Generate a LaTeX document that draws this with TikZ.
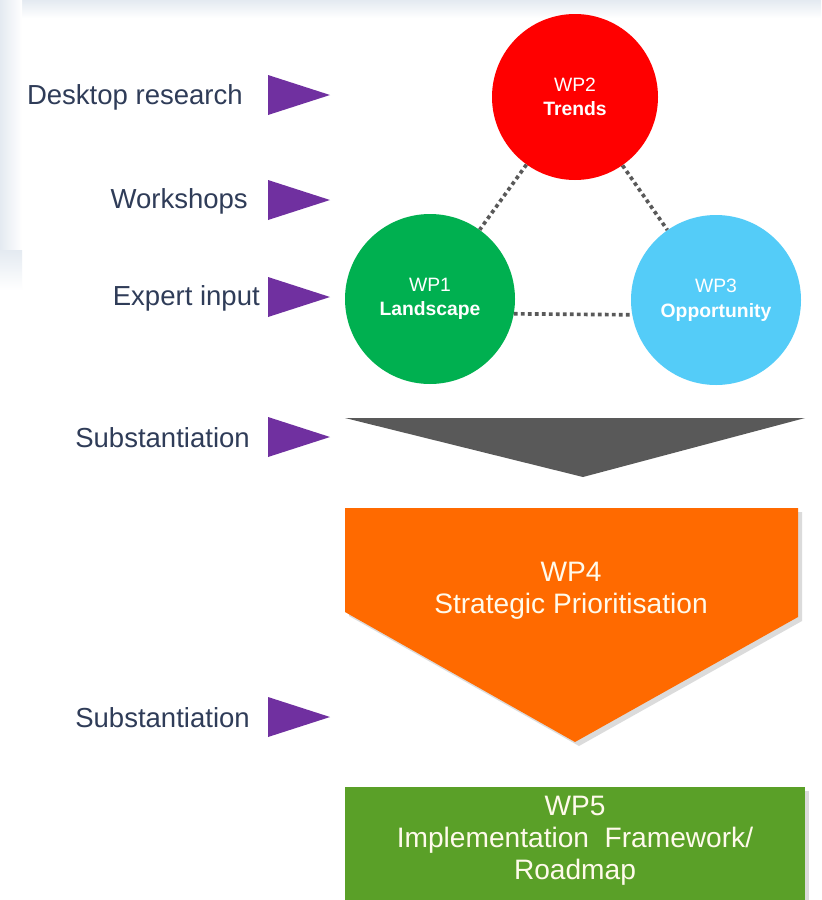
\documentclass[tikz,border=0pt]{standalone}
\usepackage{fontspec}
\setmainfont{Liberation Sans}
\definecolor{wpred}{RGB}{255,0,0}
\definecolor{wpgreen}{RGB}{0,176,80}
\definecolor{wpblue}{RGB}{84,204,248}
\definecolor{wporange}{RGB}{255,106,0}
\definecolor{wpbox}{RGB}{90,160,40}
\definecolor{chevron}{RGB}{89,89,89}
\definecolor{pointercol}{RGB}{112,48,160}
\definecolor{labeltext}{RGB}{47,60,88}
\definecolor{backdrop}{RGB}{228,234,241}
\definecolor{cream}{RGB}{255,250,235}

\begin{document}
\begin{tikzpicture}[x=0.3mm, y=-0.3mm,
  lbl/.style={anchor=east, text=labeltext, inner sep=0pt, font=\fontsize{23.5}{26}\selectfont},
  pointer/.style={fill=pointercol},
  wp/.style={circle, minimum size=51mm, inner sep=0pt, text=white, align=center, font=\fontsize{16.5}{21}\selectfont},
  boxtext/.style={text=cream, align=center, font=\fontsize{24}{27.5}\selectfont},
  link/.style={draw=black!65, line width=1.1mm, dash pattern=on 1.1mm off 1mm}]
	\useasboundingbox (0,0) rectangle (821,900);
	\fill[white] (0,0) rectangle (821,900);
	\shade[top color=backdrop, bottom color=white] (0,0) rectangle (821,18);
	\shade[left color=backdrop, right color=white] (0,0) rectangle (22,250);
	\shade[top color=backdrop, bottom color=white] (0,250) rectangle (22,290);
	\node[lbl] (desk) at (243,97) {Desktop research};
	\node[lbl] (shop) at (248,201) {Workshops};
	\node[lbl] (expert) at (260,298) {Expert input};
	\node[lbl] (subst1) at (250,438) {Substantiation};
	\node[lbl] (subst2) at (250,718) {Substantiation};
	\fill[pointer] (268,75) -- ++(62,20) -- ++(-62,20) -- cycle;
	\fill[pointer] (268,180) -- ++(62,20) -- ++(-62,20) -- cycle;
	\fill[pointer] (268,277) -- ++(62,20) -- ++(-62,20) -- cycle;
	\fill[pointer] (268,417) -- ++(62,20) -- ++(-62,20) -- cycle;
	\fill[pointer] (268,697) -- ++(62,20) -- ++(-62,20) -- cycle;
	\node[wp, fill=wpred, minimum size=49.8mm] (wp2) at (575,97) {WP2\\\textbf{Trends}};
	\node[wp, fill=wpgreen] (wp1) at (430,299) {WP1\\\textbf{Landscape}};
	\node[wp, fill=wpblue] (wp3) at (716,300) {WP3\\\textbf{Opportunity}};
	\draw[link] (wp2) -- (wp1);
	\draw[link] (wp2) -- (wp3);
	\draw[link] (wp1.-10) -- (wp3.190);
	\fill[chevron] (345,418) -- (805,418) -- (583,477) -- cycle;
	\fill[black!14] (349,512) -- (802,512) -- (802,621) -- (579,746) -- (349,616) -- cycle;
	\fill[wporange] (345,508) -- (798,508) -- (798,617) -- (575,742) -- (345,612) -- cycle;
	\node[boxtext] (wp4) at (571,591) {WP4\\Strategic Prioritisation};
	\fill[black!14] (349,791) rectangle (809,905);
	\fill[wpbox] (345,787) rectangle (805,905);
	\node[boxtext] (wp5) at (575,841) {WP5\\Implementation\ \ Framework/\\Roadmap};
\end{tikzpicture}
\end{document}
